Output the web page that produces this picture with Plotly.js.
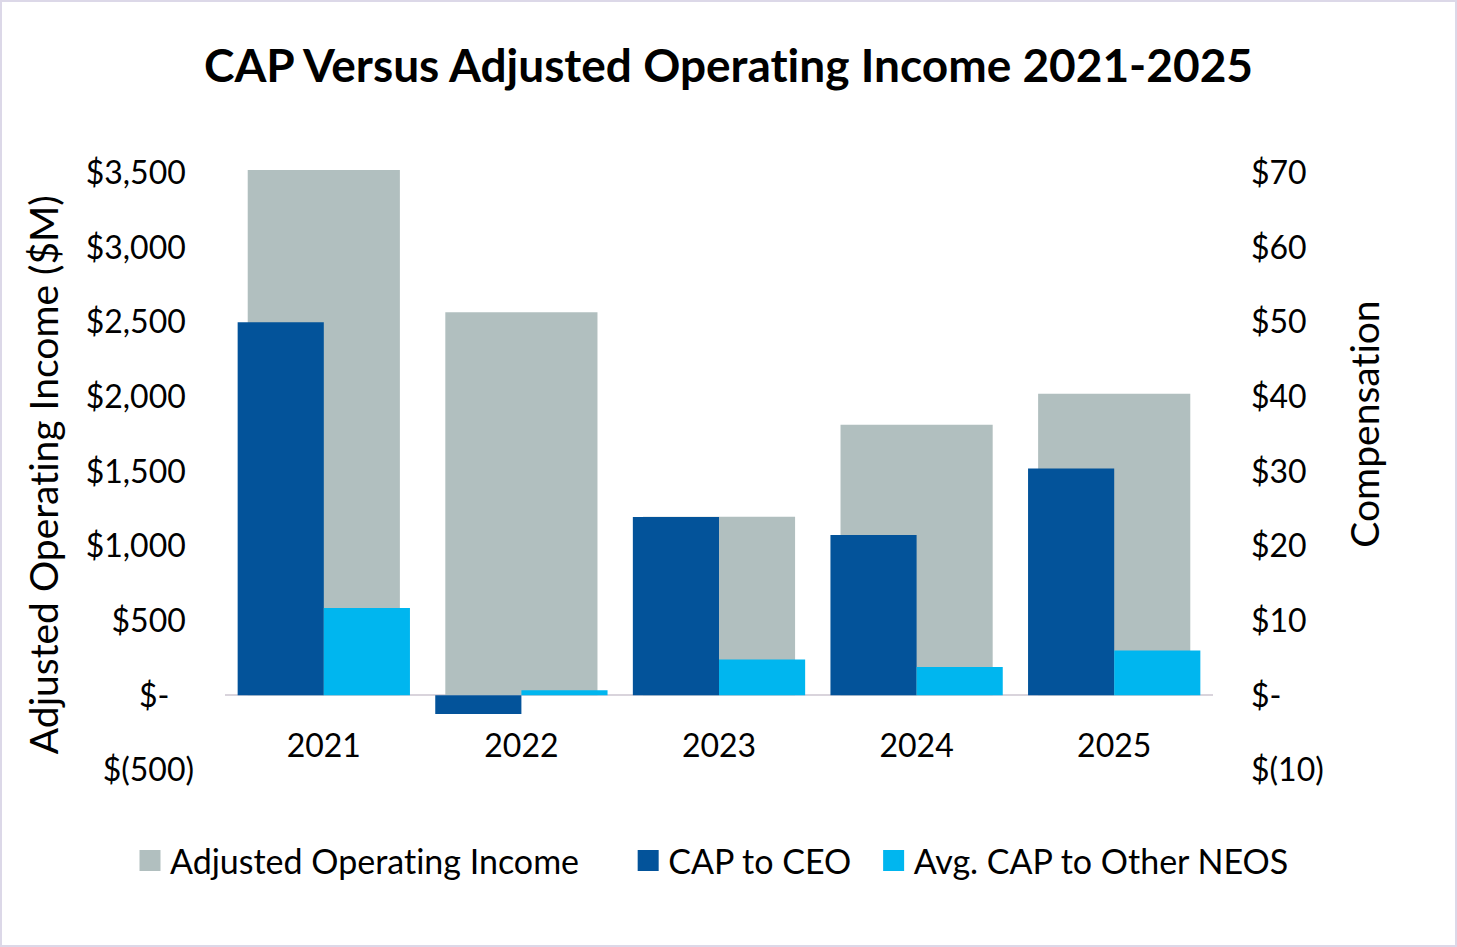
<!DOCTYPE html>
<html>
<head>
<meta charset="utf-8">
<script src="https://cdn.plot.ly/plotly-3.0.1.min.js"></script>
<style>
  html, body { margin: 0; padding: 0; background: #ffffff; overflow: hidden; }
  #chart { width: 1457px; height: 947px; position: absolute; left: 0; top: 0; }
  #chart text { font-variant-ligatures: none; font-feature-settings: "liga" 0; }
  #frame { position: absolute; left: 0; top: 0; width: 1457px; height: 947px;
           box-sizing: border-box; border: 2px solid #dcd8e8; pointer-events: none; }
</style>
</head>
<body>
<div id="chart"></div>
<div id="frame"></div>
<script>
// ---- data ----
const years = ['2021', '2022', '2023', '2024', '2025'];
const adjustedOperatingIncome = [3520, 2567, 1197, 1813, 2020];   // $M, left axis
const capToCEO = [50.0, -2.5, 23.9, 21.5, 30.4];                  // $M, right axis
const avgCapToOtherNEOs = [11.7, 0.7, 4.8, 3.8, 6.0];             // $M, right axis

const leftTickVals = [-500, 0, 500, 1000, 1500, 2000, 2500, 3000, 3500];
const leftTickText = ['$(500)', '$-', '$500', '$1,000', '$1,500', '$2,000', '$2,500', '$3,000', '$3,500'];
const rightTickVals = [-10, 0, 10, 20, 30, 40, 50, 60, 70];
const rightTickText = ['$(10)', '$-', '$10', '$20', '$30', '$40', '$50', '$60', '$70'];

const seriesNames = ['Adjusted Operating Income', 'CAP to CEO', 'Avg. CAP to Other NEOS'];
const colors = ['#B1BFBF', '#03539A', '#00B6EF'];

// ---- styling ----
const FONT = 'Lato, "Open Sans", sans-serif';
const NB = '\u00A0';
// accounting-style padding: positives carry a trailing ")" space, zero a wider pad
const leftTickPadded = leftTickText.map(function (t, i) {
  if (leftTickVals[i] < 0) return t;
  if (leftTickVals[i] === 0) return t + NB + NB + NB;
  return t + NB;
});
// legend entries get trailing room, like the reference's spacing
const legendPad = [5, 2, 0];
const legendLabels = seriesNames.map(function (n, i) {
  return n + NB.repeat(legendPad[i]);
});

const traces = [
  {
    type: 'bar', x: years, y: adjustedOperatingIncome, name: seriesNames[0],
    yaxis: 'y', width: 0.77, marker: { color: colors[0] },
    showlegend: false, legendgroup: 'g0', hoverinfo: 'x+y'
  },
  {
    type: 'bar', x: years, y: capToCEO, name: seriesNames[1],
    yaxis: 'y2', width: 0.436, offset: -0.436, marker: { color: colors[1] },
    showlegend: false, legendgroup: 'g1', hoverinfo: 'x+y'
  },
  {
    type: 'bar', x: years, y: avgCapToOtherNEOs, name: seriesNames[2],
    yaxis: 'y2', width: 0.436, offset: 0, marker: { color: colors[2] },
    showlegend: false, legendgroup: 'g2', hoverinfo: 'x+y'
  }
];
// legend keys (larger squares than the default bar swatch)
for (let i = 0; i < 3; i++) {
  traces.push({
    type: 'scatter', mode: 'markers', x: [null], y: [null], name: legendLabels[i],
    legendgroup: 'g' + i, hoverinfo: 'skip',
    marker: { symbol: 'square', size: 16, color: colors[i], line: { color: colors[i], width: 5 } }
  });
}

const layout = {
  width: 1457, height: 947,
  margin: { l: 225, r: 244, t: 158, b: 177, pad: 0 },
  paper_bgcolor: '#ffffff', plot_bgcolor: 'rgba(0,0,0,0)',
  font: { family: FONT, color: '#000000', size: 32 },
  barmode: 'overlay',
  title: {
    text: 'CAP Versus Adjusted Operating Income 2021-2025',
    font: { family: FONT, size: 46, color: '#000000', weight: 'bold' },
    xref: 'container', x: 0.5, xanchor: 'center',
    yref: 'container', y: 1 - 66 / 947, yanchor: 'middle'
  },
  xaxis: {
    type: 'category', range: [-0.5, 4.5], fixedrange: true,
    anchor: 'free', position: 500 / 4100,
    showline: false, showgrid: false, zeroline: false, ticks: '',
    tickfont: { family: FONT, size: 32, color: '#000000' },
    ticklabelstandoff: 29
  },
  yaxis: {
    range: [-500, 3600], fixedrange: true,
    tickvals: leftTickVals, ticktext: leftTickPadded,
    showgrid: false, showline: false, ticks: '',
    zeroline: true, zerolinecolor: '#D9D4DC', zerolinewidth: 2,
    tickfont: { family: FONT, size: 32, color: '#000000' },
    ticklabelstandoff: 30
  },
  yaxis2: {
    range: [-10, 72], fixedrange: true, overlaying: 'y', side: 'right',
    tickvals: rightTickVals, ticktext: rightTickText,
    showgrid: false, showline: false, ticks: '',
    tickfont: { family: FONT, size: 32, color: '#000000' },
    zeroline: false,
    ticklabelstandoff: 37
  },
  legend: {
    orientation: 'h', xref: 'paper', yref: 'paper',
    x: (130 - 225) / 988, xanchor: 'left',
    y: (770 - 861) / 612, yanchor: 'middle',
    font: { family: FONT, size: 34, color: '#000000' },
    bgcolor: 'rgba(0,0,0,0)', borderwidth: 0
  },
  annotations: [
    {
      text: 'Adjusted Operating Income ($M)', textangle: -90,
      xref: 'paper', yref: 'paper',
      x: (43 - 225) / 988, y: (770 - 474.5) / 612,
      xanchor: 'center', yanchor: 'middle', showarrow: false,
      font: { family: FONT, size: 39, color: '#000000' }
    },
    {
      text: 'Compensation', textangle: -90,
      xref: 'paper', yref: 'paper',
      x: (1364 - 225) / 988, y: (770 - 424) / 612,
      xanchor: 'center', yanchor: 'middle', showarrow: false,
      font: { family: FONT, size: 39, color: '#000000' }
    }
  ],
  hovermode: 'closest'
};

Plotly.newPlot('chart', traces, layout, { displayModeBar: false });
</script>
</body>
</html>
